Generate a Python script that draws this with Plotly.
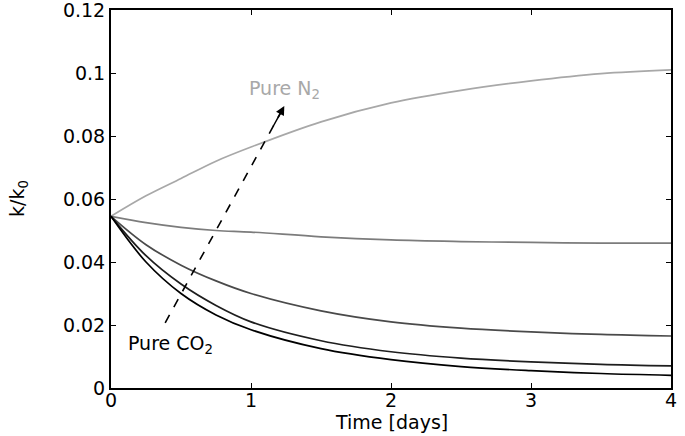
import plotly.graph_objects as go

time = [0, 0.25, 0.5, 0.75, 1, 1.5, 2, 2.5, 3, 3.5, 4]
pure_n2 = [0.0545, 0.061, 0.0665, 0.072, 0.0765, 0.0845, 0.0905, 0.0945, 0.0975, 0.0998, 0.101]
mix_a = [0.0545, 0.0525, 0.051, 0.050, 0.0495, 0.048, 0.047, 0.0465, 0.0462, 0.046, 0.046]
mix_b = [0.0545, 0.0455, 0.039, 0.034, 0.0300, 0.0245, 0.021, 0.019, 0.0178, 0.017, 0.0165]
mix_c = [0.0545, 0.042, 0.033, 0.0262, 0.021, 0.0150, 0.0115, 0.0095, 0.0083, 0.0075, 0.007]
pure_co2 = [0.0545, 0.040, 0.030, 0.0232, 0.0185, 0.0125, 0.009, 0.0068, 0.0055, 0.0046, 0.004]

series = [pure_n2, mix_a, mix_b, mix_c, pure_co2]
colors = ["#a8a8a8", "#7c7c7c", "#4a4a4a", "#1e1e1e", "#000000"]

x_ticks = [0, 1, 2, 3, 4]
y_ticks = [0, 0.02, 0.04, 0.06, 0.08, 0.1, 0.12]
y_labels = ["0", "0.02", "0.04", "0.06", "0.08", "0.1", "0.12"]

arrow_start = (0.387, 0.0207)
arrow_end = (1.238, 0.0895)

FONT = "DejaVu Sans"
FS = 19

fig = go.Figure()
for s, c in zip(series, colors):
    fig.add_trace(go.Scatter(x=time, y=s, mode="lines",
                             line=dict(color=c, width=1.7, shape="spline", smoothing=1.0),
                             showlegend=False, hoverinfo="skip"))

# dashed arrow
fig.add_trace(go.Scatter(x=[arrow_start[0], arrow_end[0]], y=[arrow_start[1], arrow_end[1]],
                         mode="lines", line=dict(color="black", width=1.6, dash="dash"),
                         showlegend=False, hoverinfo="skip"))
fig.add_annotation(x=arrow_end[0], y=arrow_end[1], ax=arrow_start[0] + 0.9 * (arrow_end[0] - arrow_start[0]),
                   ay=arrow_start[1] + 0.9 * (arrow_end[1] - arrow_start[1]),
                   xref="x", yref="y", axref="x", ayref="y", text="", showarrow=True,
                   arrowhead=2, arrowsize=1.2, arrowwidth=1.5, arrowcolor="black")

fig.add_annotation(x=0.97, y=0.0948, xref="x", yref="y", text="Pure N<sub>2</sub>",
                   showarrow=False, xanchor="left", yanchor="middle",
                   font=dict(color="#a8a8a8", size=FS, family=FONT))
fig.add_annotation(x=0.11, y=0.0138, xref="x", yref="y", text="Pure CO<sub>2</sub>",
                   showarrow=False, xanchor="left", yanchor="middle",
                   font=dict(color="black", size=FS, family=FONT))

# axis titles
fig.add_annotation(x=0.5, y=0, xref="paper", yref="paper", yshift=-34, text="Time [days]",
                   showarrow=False, yanchor="middle", font=dict(size=FS, family=FONT, color="black"))
fig.add_annotation(x=0, y=0.5, xref="paper", yref="paper", xshift=-93, text="k/k<sub>0</sub>",
                   textangle=-90, showarrow=False, xanchor="center", yanchor="middle",
                   font=dict(size=FS, family=FONT, color="black"))

axis_common = dict(showline=True, linecolor="black", linewidth=2, mirror="ticks",
                   ticks="inside", ticklen=5, tickwidth=1.2, tickcolor="black",
                   showgrid=False, zeroline=False, automargin=False,
                   ticklabeloverflow="allow",
                   tickfont=dict(size=FS, family=FONT, color="black"))

fig.update_xaxes(range=[0, 4], tickvals=x_ticks, ticktext=[str(t) for t in x_ticks],
                 ticklabelstandoff=-6, **axis_common)
fig.update_yaxes(range=[0, 0.12], tickvals=y_ticks, ticktext=y_labels,
                 **axis_common)

fig.update_layout(width=685, height=436, margin=dict(l=111, r=14, t=10, b=48, autoexpand=False),
                  plot_bgcolor="white", paper_bgcolor="white")

fig.write_html("out.html", config={"displayModeBar": False},
               post_script="document.body.style.margin='0';")
